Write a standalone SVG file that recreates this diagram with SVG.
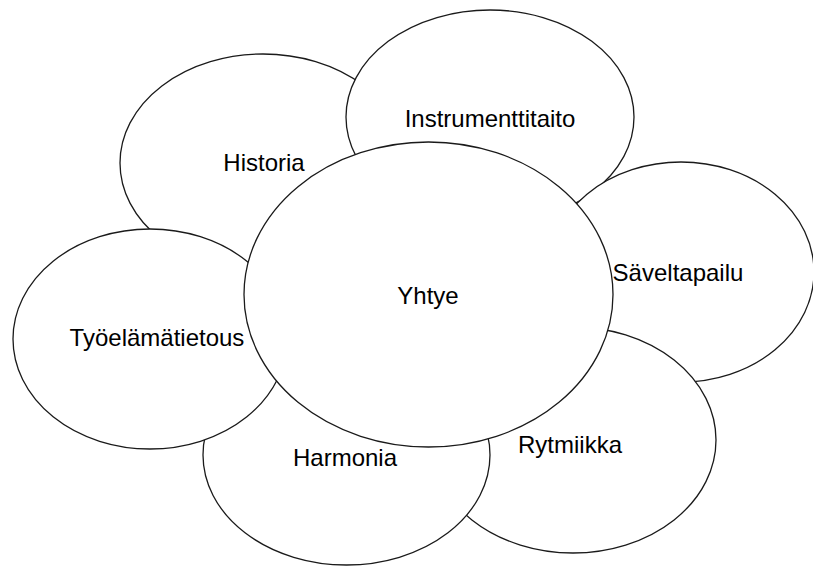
<svg xmlns="http://www.w3.org/2000/svg" width="813" height="567" viewBox="0 0 813 567">
<style>
.n ellipse{fill:#fff;stroke:#1a1a1a;stroke-width:1.3}
.n text{font-family:"Liberation Sans",Arial,sans-serif;font-size:24px;fill:#000;text-anchor:middle}
</style>
<rect width="813" height="567" fill="#fff"/>
<g id="connectors"></g>
<g id="historia" class="n"><ellipse cx="263" cy="163" rx="143" ry="109"/><text x="264" y="171">Historia</text></g>
<g id="instrumenttitaito" class="n"><ellipse cx="490" cy="117" rx="144" ry="107"/><text x="490" y="127">Instrumenttitaito</text></g>
<g id="saveltapailu" class="n"><ellipse cx="681" cy="272" rx="133" ry="110"/><text x="678" y="281">Säveltapailu</text></g>
<g id="rytmiikka" class="n"><ellipse cx="573" cy="440" rx="143" ry="113"/><text x="570" y="453">Rytmiikka</text></g>
<g id="harmonia" class="n"><ellipse cx="346.5" cy="455" rx="143.5" ry="110"/><text x="345" y="466">Harmonia</text></g>
<g id="tyoelamatietous" class="n"><ellipse cx="150" cy="339" rx="137" ry="110"/><text x="157" y="346">Työelämätietous</text></g>
<g id="yhtye" class="n"><ellipse cx="428.5" cy="294.5" rx="184.5" ry="152.5"/><text x="428" y="304">Yhtye</text></g>
</svg>
